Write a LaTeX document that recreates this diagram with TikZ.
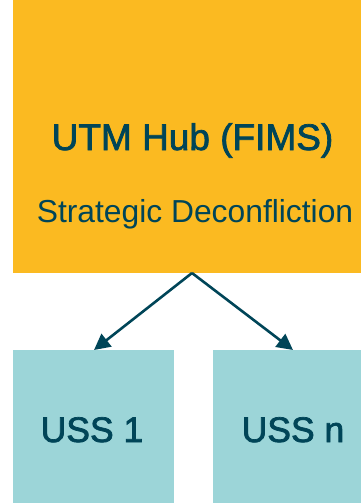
\documentclass[tikz,border=0pt]{standalone}
\usepackage{fontspec}
\setmainfont{Liberation Sans}
\newfontfamily\heavyfont[FakeBold=2]{Liberation Sans}
\usetikzlibrary{arrows.meta}
\definecolor{hubfill}{RGB}{251,186,33}
\definecolor{ussfill}{RGB}{156,213,216}
\definecolor{ink}{RGB}{0,69,88}
\begin{document}
\begin{tikzpicture}[x=1pt,y=-1pt,
  box/.style={draw=none,inner sep=0pt,outer sep=0pt,anchor=north west},
  lbl/.style={text=ink,inner sep=0pt,anchor=base},
  link/.style={draw=ink,line width=2.6pt,-{Triangle[length=16pt,width=16pt]}}]
\useasboundingbox (0,0) rectangle (361,503);
\node[box,fill=hubfill,minimum width=348pt,minimum height=273pt] (hub) at (13,0) {};
\node[box,fill=ussfill,minimum width=161pt,minimum height=153pt] (uss1) at (13,350) {};
\node[box,fill=ussfill,minimum width=148pt,minimum height=153pt] (ussn) at (213,350) {};
\node[lbl,font=\heavyfont\fontsize{37}{44}\selectfont] (t1) at (192.5,150) {UTM Hub (FIMS)};
\node[lbl,font=\fontsize{31.8}{38}\selectfont] (t2) at (195,222) {Strategic Deconfliction};
\node[lbl,font=\heavyfont\fontsize{35.5}{42}\selectfont] (u1) at (92,442) {USS 1};
\node[lbl,font=\heavyfont\fontsize{35.5}{42}\selectfont] (un) at (293,442) {USS n};
\draw[link] ([xshift=5pt]hub.south) -- ([xshift=0.5pt]uss1.north);
\draw[link] ([xshift=5pt]hub.south) -- ([xshift=6pt]ussn.north);
\end{tikzpicture}
\end{document}
